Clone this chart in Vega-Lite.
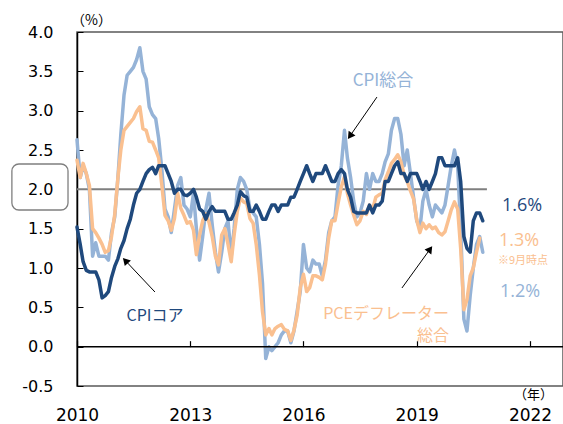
{
"$schema": "https://vega.github.io/schema/vega-lite/v6.json",
"width": 486, "height": 354,
"autosize": "none",
"padding": {"left": 77, "top": 32, "right": 0, "bottom": 38},
"background": "white",
"config": {"view": {"stroke": "#595959", "strokeWidth": 1.5}, "font": "Noto Sans CJK JP"},
"datasets": {
"cpi": [
{"date":"2010-01","value":2.63},{"date":"2010-02","value":2.15},{"date":"2010-03","value":2.3},{"date":"2010-04","value":2.2},{"date":"2010-05","value":2.0},{"date":"2010-06","value":1.15},{"date":"2010-07","value":1.32},{"date":"2010-08","value":1.15},{"date":"2010-09","value":1.15},{"date":"2010-10","value":1.15},{"date":"2010-11","value":1.1},{"date":"2010-12","value":1.45},
{"date":"2011-01","value":1.65},{"date":"2011-02","value":2.15},{"date":"2011-03","value":2.7},{"date":"2011-04","value":3.2},{"date":"2011-05","value":3.45},{"date":"2011-06","value":3.5},{"date":"2011-07","value":3.55},{"date":"2011-08","value":3.65},{"date":"2011-09","value":3.8},{"date":"2011-10","value":3.5},{"date":"2011-11","value":3.4},{"date":"2011-12","value":3.05},
{"date":"2012-01","value":2.95},{"date":"2012-02","value":2.9},{"date":"2012-03","value":2.65},{"date":"2012-04","value":2.25},{"date":"2012-05","value":1.75},{"date":"2012-06","value":1.65},{"date":"2012-07","value":1.45},{"date":"2012-08","value":1.75},{"date":"2012-09","value":2.05},{"date":"2012-10","value":2.15},{"date":"2012-11","value":1.8},{"date":"2012-12","value":1.75},
{"date":"2013-01","value":1.65},{"date":"2013-02","value":1.95},{"date":"2013-03","value":1.5},{"date":"2013-04","value":1.1},{"date":"2013-05","value":1.4},{"date":"2013-06","value":1.75},{"date":"2013-07","value":1.95},{"date":"2013-08","value":1.55},{"date":"2013-09","value":1.2},{"date":"2013-10","value":0.95},{"date":"2013-11","value":1.2},{"date":"2013-12","value":1.5},
{"date":"2014-01","value":1.6},{"date":"2014-02","value":1.15},{"date":"2014-03","value":1.5},{"date":"2014-04","value":2.0},{"date":"2014-05","value":2.15},{"date":"2014-06","value":2.1},{"date":"2014-07","value":2.0},{"date":"2014-08","value":1.75},{"date":"2014-09","value":1.7},{"date":"2014-10","value":1.65},{"date":"2014-11","value":1.3},{"date":"2014-12","value":0.8},
{"date":"2015-01","value":-0.15},{"date":"2015-02","value":0.0},{"date":"2015-03","value":-0.05},{"date":"2015-04","value":0.0},{"date":"2015-05","value":0.05},{"date":"2015-06","value":0.15},{"date":"2015-07","value":0.2},{"date":"2015-08","value":0.2},{"date":"2015-09","value":0.05},{"date":"2015-10","value":0.2},{"date":"2015-11","value":0.45},{"date":"2015-12","value":0.7},
{"date":"2016-01","value":1.3},{"date":"2016-02","value":1.0},{"date":"2016-03","value":0.95},{"date":"2016-04","value":1.1},{"date":"2016-05","value":1.05},{"date":"2016-06","value":1.05},{"date":"2016-07","value":0.9},{"date":"2016-08","value":1.1},{"date":"2016-09","value":1.45},{"date":"2016-10","value":1.6},{"date":"2016-11","value":1.65},{"date":"2016-12","value":2.05},
{"date":"2017-01","value":2.3},{"date":"2017-02","value":2.75},{"date":"2017-03","value":2.4},{"date":"2017-04","value":2.15},{"date":"2017-05","value":1.85},{"date":"2017-06","value":1.65},{"date":"2017-07","value":1.7},{"date":"2017-08","value":1.85},{"date":"2017-09","value":2.2},{"date":"2017-10","value":2.0},{"date":"2017-11","value":2.2},{"date":"2017-12","value":2.1},
{"date":"2018-01","value":2.1},{"date":"2018-02","value":2.2},{"date":"2018-03","value":2.35},{"date":"2018-04","value":2.45},{"date":"2018-05","value":2.75},{"date":"2018-06","value":2.9},{"date":"2018-07","value":2.9},{"date":"2018-08","value":2.7},{"date":"2018-09","value":2.3},{"date":"2018-10","value":2.5},{"date":"2018-11","value":2.2},{"date":"2018-12","value":1.9},
{"date":"2019-01","value":1.6},{"date":"2019-02","value":1.5},{"date":"2019-03","value":1.85},{"date":"2019-04","value":2.0},{"date":"2019-05","value":1.8},{"date":"2019-06","value":1.65},{"date":"2019-07","value":1.8},{"date":"2019-08","value":1.75},{"date":"2019-09","value":1.7},{"date":"2019-10","value":1.8},{"date":"2019-11","value":2.05},{"date":"2019-12","value":2.3},
{"date":"2020-01","value":2.5},{"date":"2020-02","value":2.3},{"date":"2020-03","value":1.5},{"date":"2020-04","value":0.35},{"date":"2020-05","value":0.2},{"date":"2020-06","value":0.65},{"date":"2020-07","value":1.0},{"date":"2020-08","value":1.3},{"date":"2020-09","value":1.4},{"date":"2020-10","value":1.2}
],
"pce": [
{"date":"2010-01","value":2.37},{"date":"2010-02","value":2.15},{"date":"2010-03","value":2.33},{"date":"2010-04","value":2.2},{"date":"2010-05","value":2.05},{"date":"2010-06","value":1.5},{"date":"2010-07","value":1.45},{"date":"2010-08","value":1.38},{"date":"2010-09","value":1.3},{"date":"2010-10","value":1.2},{"date":"2010-11","value":1.22},{"date":"2010-12","value":1.4},
{"date":"2011-01","value":1.68},{"date":"2011-02","value":2.15},{"date":"2011-03","value":2.5},{"date":"2011-04","value":2.75},{"date":"2011-05","value":2.8},{"date":"2011-06","value":2.85},{"date":"2011-07","value":2.9},{"date":"2011-08","value":2.99},{"date":"2011-09","value":3.05},{"date":"2011-10","value":2.77},{"date":"2011-11","value":2.75},{"date":"2011-12","value":2.61},
{"date":"2012-01","value":2.6},{"date":"2012-02","value":2.5},{"date":"2012-03","value":2.4},{"date":"2012-04","value":2.05},{"date":"2012-05","value":1.67},{"date":"2012-06","value":1.6},{"date":"2012-07","value":1.48},{"date":"2012-08","value":1.63},{"date":"2012-09","value":1.95},{"date":"2012-10","value":1.76},{"date":"2012-11","value":1.67},{"date":"2012-12","value":1.57},
{"date":"2013-01","value":1.59},{"date":"2013-02","value":1.48},{"date":"2013-03","value":1.17},{"date":"2013-04","value":1.42},{"date":"2013-05","value":1.6},{"date":"2013-06","value":1.69},{"date":"2013-07","value":1.58},{"date":"2013-08","value":1.4},{"date":"2013-09","value":1.15},{"date":"2013-10","value":1.04},{"date":"2013-11","value":1.42},{"date":"2013-12","value":1.5},
{"date":"2014-01","value":1.3},{"date":"2014-02","value":1.08},{"date":"2014-03","value":1.42},{"date":"2014-04","value":1.72},{"date":"2014-05","value":1.89},{"date":"2014-06","value":1.84},{"date":"2014-07","value":1.82},{"date":"2014-08","value":1.63},{"date":"2014-09","value":1.57},{"date":"2014-10","value":1.3},{"date":"2014-11","value":0.91},{"date":"2014-12","value":0.44},
{"date":"2015-01","value":0.15},{"date":"2015-02","value":0.23},{"date":"2015-03","value":0.15},{"date":"2015-04","value":0.23},{"date":"2015-05","value":0.26},{"date":"2015-06","value":0.28},{"date":"2015-07","value":0.22},{"date":"2015-08","value":0.2},{"date":"2015-09","value":0.08},{"date":"2015-10","value":0.21},{"date":"2015-11","value":0.4},{"date":"2015-12","value":0.75},
{"date":"2016-01","value":0.92},{"date":"2016-02","value":0.7},{"date":"2016-03","value":0.75},{"date":"2016-04","value":0.9},{"date":"2016-05","value":0.9},{"date":"2016-06","value":0.88},{"date":"2016-07","value":0.85},{"date":"2016-08","value":1.05},{"date":"2016-09","value":1.38},{"date":"2016-10","value":1.6},{"date":"2016-11","value":1.6},{"date":"2016-12","value":1.82},
{"date":"2017-01","value":2.03},{"date":"2017-02","value":2.16},{"date":"2017-03","value":1.95},{"date":"2017-04","value":1.8},{"date":"2017-05","value":1.67},{"date":"2017-06","value":1.55},{"date":"2017-07","value":1.6},{"date":"2017-08","value":1.72},{"date":"2017-09","value":1.68},{"date":"2017-10","value":1.8},{"date":"2017-11","value":1.75},{"date":"2017-12","value":1.9},
{"date":"2018-01","value":1.93},{"date":"2018-02","value":1.95},{"date":"2018-03","value":2.12},{"date":"2018-04","value":2.22},{"date":"2018-05","value":2.33},{"date":"2018-06","value":2.38},{"date":"2018-07","value":2.44},{"date":"2018-08","value":2.35},{"date":"2018-09","value":2.18},{"date":"2018-10","value":2.1},{"date":"2018-11","value":1.98},{"date":"2018-12","value":1.88},
{"date":"2019-01","value":1.61},{"date":"2019-02","value":1.45},{"date":"2019-03","value":1.57},{"date":"2019-04","value":1.5},{"date":"2019-05","value":1.55},{"date":"2019-06","value":1.5},{"date":"2019-07","value":1.52},{"date":"2019-08","value":1.45},{"date":"2019-09","value":1.42},{"date":"2019-10","value":1.46},{"date":"2019-11","value":1.6},{"date":"2019-12","value":1.74},
{"date":"2020-01","value":1.84},{"date":"2020-02","value":1.75},{"date":"2020-03","value":1.25},{"date":"2020-04","value":0.47},{"date":"2020-05","value":0.6},{"date":"2020-06","value":0.9},{"date":"2020-07","value":1.0},{"date":"2020-08","value":1.2},{"date":"2020-09","value":1.38}
],
"core": [
{"date":"2010-01","value":1.52},{"date":"2010-02","value":1.3},{"date":"2010-03","value":1.08},{"date":"2010-04","value":0.97},{"date":"2010-05","value":0.95},{"date":"2010-06","value":0.95},{"date":"2010-07","value":0.95},{"date":"2010-08","value":0.85},{"date":"2010-09","value":0.62},{"date":"2010-10","value":0.65},{"date":"2010-11","value":0.7},{"date":"2010-12","value":0.88},
{"date":"2011-01","value":1.02},{"date":"2011-02","value":1.12},{"date":"2011-03","value":1.25},{"date":"2011-04","value":1.35},{"date":"2011-05","value":1.5},{"date":"2011-06","value":1.62},{"date":"2011-07","value":1.8},{"date":"2011-08","value":1.95},{"date":"2011-09","value":2.0},{"date":"2011-10","value":2.1},{"date":"2011-11","value":2.2},{"date":"2011-12","value":2.25},
{"date":"2012-01","value":2.28},{"date":"2012-02","value":2.2},{"date":"2012-03","value":2.3},{"date":"2012-04","value":2.3},{"date":"2012-05","value":2.3},{"date":"2012-06","value":2.2},{"date":"2012-07","value":2.1},{"date":"2012-08","value":1.95},{"date":"2012-09","value":2.0},{"date":"2012-10","value":2.0},{"date":"2012-11","value":1.93},{"date":"2012-12","value":1.92},
{"date":"2013-01","value":1.95},{"date":"2013-02","value":2.0},{"date":"2013-03","value":1.9},{"date":"2013-04","value":1.75},{"date":"2013-05","value":1.72},{"date":"2013-06","value":1.62},{"date":"2013-07","value":1.72},{"date":"2013-08","value":1.78},{"date":"2013-09","value":1.72},{"date":"2013-10","value":1.72},{"date":"2013-11","value":1.72},{"date":"2013-12","value":1.72},
{"date":"2014-01","value":1.62},{"date":"2014-02","value":1.62},{"date":"2014-03","value":1.7},{"date":"2014-04","value":1.8},{"date":"2014-05","value":1.97},{"date":"2014-06","value":1.92},{"date":"2014-07","value":1.9},{"date":"2014-08","value":1.72},{"date":"2014-09","value":1.72},{"date":"2014-10","value":1.8},{"date":"2014-11","value":1.72},{"date":"2014-12","value":1.62},
{"date":"2015-01","value":1.62},{"date":"2015-02","value":1.72},{"date":"2015-03","value":1.8},{"date":"2015-04","value":1.8},{"date":"2015-05","value":1.72},{"date":"2015-06","value":1.8},{"date":"2015-07","value":1.8},{"date":"2015-08","value":1.8},{"date":"2015-09","value":1.9},{"date":"2015-10","value":1.9},{"date":"2015-11","value":2.0},{"date":"2015-12","value":2.1},
{"date":"2016-01","value":2.2},{"date":"2016-02","value":2.3},{"date":"2016-03","value":2.2},{"date":"2016-04","value":2.1},{"date":"2016-05","value":2.2},{"date":"2016-06","value":2.2},{"date":"2016-07","value":2.2},{"date":"2016-08","value":2.3},{"date":"2016-09","value":2.2},{"date":"2016-10","value":2.1},{"date":"2016-11","value":2.1},{"date":"2016-12","value":2.2},
{"date":"2017-01","value":2.25},{"date":"2017-02","value":2.2},{"date":"2017-03","value":2.0},{"date":"2017-04","value":1.9},{"date":"2017-05","value":1.72},{"date":"2017-06","value":1.7},{"date":"2017-07","value":1.7},{"date":"2017-08","value":1.7},{"date":"2017-09","value":1.7},{"date":"2017-10","value":1.8},{"date":"2017-11","value":1.7},{"date":"2017-12","value":1.8},
{"date":"2018-01","value":1.8},{"date":"2018-02","value":1.85},{"date":"2018-03","value":2.1},{"date":"2018-04","value":2.1},{"date":"2018-05","value":2.2},{"date":"2018-06","value":2.3},{"date":"2018-07","value":2.35},{"date":"2018-08","value":2.2},{"date":"2018-09","value":2.2},{"date":"2018-10","value":2.1},{"date":"2018-11","value":2.2},{"date":"2018-12","value":2.2},
{"date":"2019-01","value":2.2},{"date":"2019-02","value":2.1},{"date":"2019-03","value":2.0},{"date":"2019-04","value":2.1},{"date":"2019-05","value":2.0},{"date":"2019-06","value":2.1},{"date":"2019-07","value":2.2},{"date":"2019-08","value":2.4},{"date":"2019-09","value":2.4},{"date":"2019-10","value":2.3},{"date":"2019-11","value":2.3},{"date":"2019-12","value":2.3},
{"date":"2020-01","value":2.3},{"date":"2020-02","value":2.4},{"date":"2020-03","value":2.1},{"date":"2020-04","value":1.4},{"date":"2020-05","value":1.25},{"date":"2020-06","value":1.2},{"date":"2020-07","value":1.6},{"date":"2020-08","value":1.7},{"date":"2020-09","value":1.7},{"date":"2020-10","value":1.6}
]
},
"layer": [
{
"data": {"values": [{}]},
"mark": {"type": "rule", "color": "#7f7f7f", "strokeWidth": 2},
"encoding": {
"x": {"datum": {"year": 2010, "month": 1, "date": 1}, "type": "temporal", "axis": null},
"x2": {"datum": {"year": 2020, "month": 11, "date": 10}},
"y": {"datum": 2, "type": "quantitative", "axis": null}
}
},
{
"data": {"values": [{}]},
"mark": {"type": "rect", "cornerRadius": 7, "fill": null, "fillOpacity": 0, "stroke": "#7f7f7f", "strokeWidth": 1.3},
"encoding": {
"x": {"datum": {"year": 2008, "month": 4, "date": 11}, "type": "temporal", "axis": null},
"x2": {"datum": {"year": 2009, "month": 10, "date": 6}},
"y": {"datum": 1.737, "type": "quantitative", "axis": null},
"y2": {"datum": 2.322}
}
},
{
"data": {"name": "cpi"},
"mark": {"type": "line", "color": "#95b3d7", "strokeWidth": 3.5, "strokeJoin": "round", "strokeCap": "round"},
"encoding": {
"x": {"field": "date", "type": "temporal",
"scale": {"domain": [{"year": 2010, "month": 1, "date": 1}, {"year": 2022, "month": 11, "date": 16}]},
"axis": {"orient": "bottom", "values": [{"year": 2010}, {"year": 2013}, {"year": 2016}, {"year": 2019}, {"year": 2022}], "format": "%Y", "domain": false, "ticks": false, "tickSize": 0, "grid": false, "labelPadding": 21, "labelFontSize": 17, "labelFont": "DejaVu Sans", "labelColor": "black", "labelFlush": false, "labelOverlap": false, "labelBound": false,
"title": "（年）", "titleX": 456, "titleY": 8, "titleAlign": "center", "titleBaseline": "middle", "titleAnchor": null, "titleFontSize": 13, "titleFontWeight": "normal", "titleFont": "Noto Sans CJK JP", "titleColor": "black"}},
"y": {"field": "value", "type": "quantitative",
"scale": {"domain": [-0.5, 4], "nice": false, "zero": false},
"axis": {"orient": "left", "values": [-0.5, 0, 0.5, 1, 1.5, 2, 2.5, 3, 3.5, 4], "format": ".1f", "labelExpr": "replace(datum.label, '\u2212', '-')", "grid": false, "domain": true, "domainColor": "black", "domainWidth": 1.5, "ticks": true, "tickColor": "black", "tickWidth": 1, "tickSize": -6, "labelPadding": 30, "labelFontSize": 16, "labelFont": "DejaVu Sans", "labelColor": "black",
"title": "（%）", "titleAngle": 0, "titleX": 14, "titleY": -12, "titleAlign": "center", "titleBaseline": "middle", "titleAnchor": null, "titleFontSize": 14, "titleFontWeight": "normal", "titleFont": "Noto Sans CJK JP", "titleColor": "black"}}
}
},
{
"data": {"name": "pce"},
"mark": {"type": "line", "color": "#fac090", "strokeWidth": 3.5, "strokeJoin": "round", "strokeCap": "round"},
"encoding": {
"x": {"field": "date", "type": "temporal", "axis": null},
"y": {"field": "value", "type": "quantitative", "axis": null}
}
},
{
"data": {"name": "core"},
"mark": {"type": "line", "color": "#1f497d", "strokeWidth": 3.5, "strokeJoin": "round", "strokeCap": "round"},
"encoding": {
"x": {"field": "date", "type": "temporal", "axis": null},
"y": {"field": "value", "type": "quantitative", "axis": null}
}
},
{
"data": {"values": [{}]},
"mark": {"type": "rule", "color": "black", "strokeWidth": 1.5},
"encoding": {
"x": {"datum": {"year": 2010, "month": 1, "date": 1}, "type": "temporal",
"axis": {"orient": "top", "offset": -314.67, "values": [{"year": 2010}, {"year": 2013}, {"year": 2016}, {"year": 2019}, {"year": 2022}], "labels": false, "domain": false, "ticks": true, "tickSize": 6, "tickColor": "black", "tickWidth": 1.2, "grid": false, "title": null}},
"x2": {"datum": {"year": 2022, "month": 11, "date": 16}},
"y": {"datum": 0, "type": "quantitative", "axis": null}
}
},
{
"data": {"values": [{}]},
"layer": [
{"mark": {"type": "rule", "color": "black", "strokeWidth": 1},
"encoding": {
"x": {"datum": {"year": 2017, "month": 12, "date": 12}, "type": "temporal", "axis": null},
"x2": {"datum": {"year": 2017, "month": 3, "date": 26}},
"y": {"datum": 3.173, "type": "quantitative", "axis": null},
"y2": {"datum": 2.678}}},
{"mark": {"type": "point", "shape": "triangle-up", "filled": true, "color": "black", "opacity": 1, "size": 70, "angle": 215},
"encoding": {
"x": {"datum": {"year": 2017, "month": 3, "date": 26}, "type": "temporal", "axis": null},
"y": {"datum": 2.678, "type": "quantitative", "axis": null}}},
{"mark": {"type": "rule", "color": "black", "strokeWidth": 1},
"encoding": {
"x": {"datum": {"year": 2012, "month": 1, "date": 25}, "type": "temporal", "axis": null},
"x2": {"datum": {"year": 2011, "month": 4, "date": 14}},
"y": {"datum": 0.695, "type": "quantitative", "axis": null},
"y2": {"datum": 1.094}}},
{"mark": {"type": "point", "shape": "triangle-up", "filled": true, "color": "black", "opacity": 1, "size": 70, "angle": 317},
"encoding": {
"x": {"datum": {"year": 2011, "month": 4, "date": 14}, "type": "temporal", "axis": null},
"y": {"datum": 1.094, "type": "quantitative", "axis": null}}},
{"mark": {"type": "rule", "color": "black", "strokeWidth": 1},
"encoding": {
"x": {"datum": {"year": 2018, "month": 8, "date": 11}, "type": "temporal", "axis": null},
"x2": {"datum": {"year": 2019, "month": 5, "date": 10}},
"y": {"datum": 0.746, "type": "quantitative", "axis": null},
"y2": {"datum": 1.24}}},
{"mark": {"type": "point", "shape": "triangle-up", "filled": true, "color": "black", "opacity": 1, "size": 70, "angle": 36},
"encoding": {
"x": {"datum": {"year": 2019, "month": 5, "date": 10}, "type": "temporal", "axis": null},
"y": {"datum": 1.24, "type": "quantitative", "axis": null}}},
{"mark": {"type": "text", "text": "CPI総合", "color": "#95b3d7", "fontSize": 17, "align": "center", "baseline": "middle"},
"encoding": {
"x": {"datum": {"year": 2018, "month": 2, "date": 8}, "type": "temporal", "axis": null},
"y": {"datum": 3.377, "type": "quantitative", "axis": null}}},
{"mark": {"type": "text", "text": "CPIコア", "color": "#1f497d", "fontSize": 16, "align": "center", "baseline": "middle"},
"encoding": {
"x": {"datum": {"year": 2012, "month": 1, "date": 25}, "type": "temporal", "axis": null},
"y": {"datum": 0.39, "type": "quantitative", "axis": null}}},
{"mark": {"type": "text", "text": ["PCEデフレーター", "総合"], "color": "#fac090", "fontSize": 16, "lineHeight": 22, "align": "right", "baseline": "middle"},
"encoding": {
"x": {"datum": {"year": 2019, "month": 11, "date": 9}, "type": "temporal", "axis": null},
"y": {"datum": 0.415, "type": "quantitative", "axis": null}}},
{"mark": {"type": "text", "text": "1.6%", "color": "#1f497d", "fontSize": 18, "font": "Open Sans", "align": "center", "baseline": "middle"},
"encoding": {
"x": {"datum": {"year": 2021, "month": 10, "date": 16}, "type": "temporal", "axis": null},
"y": {"datum": 1.787, "type": "quantitative", "axis": null}}},
{"mark": {"type": "text", "text": "1.3%", "color": "#fac090", "fontSize": 18, "font": "Open Sans", "align": "center", "baseline": "middle"},
"encoding": {
"x": {"datum": {"year": 2021, "month": 9, "date": 17}, "type": "temporal", "axis": null},
"y": {"datum": 1.343, "type": "quantitative", "axis": null}}},
{"mark": {"type": "text", "text": "※9月時点", "color": "#fac090", "fontSize": 11, "align": "center", "baseline": "middle"},
"encoding": {
"x": {"datum": {"year": 2021, "month": 10, "date": 25}, "type": "temporal", "axis": null},
"y": {"datum": 1.089, "type": "quantitative", "axis": null}}},
{"mark": {"type": "text", "text": "1.2%", "color": "#95b3d7", "fontSize": 18, "font": "Open Sans", "align": "center", "baseline": "middle"},
"encoding": {
"x": {"datum": {"year": 2021, "month": 9, "date": 26}, "type": "temporal", "axis": null},
"y": {"datum": 0.695, "type": "quantitative", "axis": null}}}
]
}
],
"resolve": {"axis": {"x": "independent", "y": "independent"}}
}
